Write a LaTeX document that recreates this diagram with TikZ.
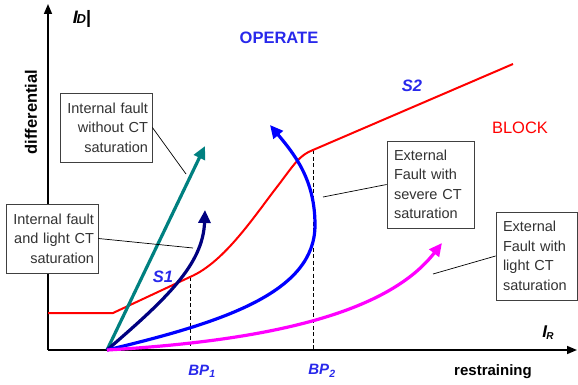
\documentclass[tikz,border=0pt]{standalone}
\usepackage{fontspec}
\setmainfont{Liberation Sans}
\usetikzlibrary{arrows.meta}
\definecolor{tealc}{RGB}{0,128,128}
\definecolor{navyc}{RGB}{0,0,128}
\definecolor{bluec}{RGB}{0,0,255}
\definecolor{magc}{RGB}{255,0,255}
\definecolor{redc}{RGB}{255,0,0}
\definecolor{lblblue}{RGB}{40,40,235}
\definecolor{boxtext}{RGB}{50,50,50}
\tikzset{
  axis/.style={line width=1.5pt, -{Triangle[length=10pt,width=8pt]}},
  traj/.style={line width=3.2pt, -{Triangle[length=13pt,width=12pt]}},
  bpline/.style={dashed, line width=0.7pt, dash pattern=on 4pt off 2.5pt},
  leader/.style={line width=0.7pt},
  callout/.style={draw=black!75, line width=0.8pt, fill=white, text=boxtext,
    font=\fontsize{14.5}{19.5}\selectfont, inner ysep=2pt},
  bluelbl/.style={text=lblblue, font=\fontsize{16.5}{18}\selectfont\bfseries\itshape},
}
\begin{document}
\begin{tikzpicture}[x=1pt,y=-1pt]
\useasboundingbox (0,0) rectangle (578,385);
% key coordinates
\coordinate (O) at (48,350);
\coordinate (ytip) at (48,4);
\coordinate (xtip) at (577,350);
\coordinate (S) at (107,350);
\coordinate (bp1top) at (190,277);
\coordinate (bp1bot) at (190,350);
\coordinate (bp2top) at (313,150);
\coordinate (bp2bot) at (313,350);
\coordinate (r0) at (48,313);
\coordinate (r1) at (113,313);
\coordinate (rend) at (513,64);
\coordinate (tealtip) at (205,146);
\coordinate (navytip) at (205,210);
\coordinate (bluetip) at (270,125);
\coordinate (magtip) at (442,243);
\coordinate (l1) at (186,174);
\coordinate (l2) at (193,248);
\coordinate (l3) at (323,197);
\coordinate (l4) at (433,274);
% axes
\draw[axis] (O) -- (ytip);
\draw[axis] (O) -- (xtip);
% breakpoints
\draw[bpline] (bp1top) -- (bp1bot);
\draw[bpline] (bp2top) -- (bp2bot);
% characteristic
\draw[redc, line width=2pt, line join=round] (r0) -- (r1) -- (bp1top)
  .. controls (225,262) and (255,215) .. (280,183)
  .. controls (295,163) and (300,155) .. (bp2top) -- (rend);
% trajectories
\draw[traj, tealc] (S) -- (tealtip);
\draw[traj, navyc] (S) .. controls (165,300) and (203,265) .. (navytip);
\draw[traj, bluec] (S) .. controls (225,322) and (315,292) .. (315,225)
  .. controls (315,180) and (295,155) .. (bluetip);
\draw[traj, magc] (S) .. controls (280,340) and (390,310) .. (magtip);
% callouts
\node[callout, align=right, text width=84pt, inner xsep=4pt, minimum height=69pt] (b1) at (106,127.5)
  {Internal fault\\without CT\\saturation};
\node[callout, align=right, text width=84pt, inner xsep=4pt, minimum height=69pt] (b2) at (52,238.5)
  {Internal fault\\and light CT\\saturation};
\node[callout, align=left, text width=73pt, inner xsep=7pt, minimum height=87pt] (b3) at (430.5,184.5)
  {External\\Fault with\\severe CT\\saturation};
\node[callout, align=left, text width=67pt, inner xsep=7pt, minimum height=88pt] (b4) at (536.5,256)
  {External\\Fault with\\light CT\\saturation};
\draw[leader] (b1.east) -- (l1);
\draw[leader] (b2.east) -- (l2);
\draw[leader] (b3.west) -- (l3);
\draw[leader] (b4.west) -- (l4);
% labels
\node[font=\fontsize{18}{20}\selectfont\bfseries] (id) at (82,19) {\textit{I}\kern-1.5pt{\fontsize{13}{13}\selectfont\textit{D}}|};
\node[font=\fontsize{17}{18}\selectfont\bfseries] (ir) at (548,333) {\textit{I}\kern-1pt{\fontsize{10}{10}\selectfont\raisebox{-2pt}{\textit{R}}}};
\node[rotate=90, font=\fontsize{16.5}{18}\selectfont\bfseries] (diff) at (31,112) {differential};
\node[font=\fontsize{15}{18}\selectfont\bfseries] (rest) at (493,372) {restraining};
\node[text=lblblue, font=\fontsize{16.5}{18}\selectfont\bfseries] (op) at (279,38) {OPERATE};
\node[text=redc, font=\fontsize{16.5}{18}\selectfont] (blk) at (520,128) {BLOCK};
\node[bluelbl] (s2) at (412,86) {S2};
\node[bluelbl] (s1) at (163,277) {S1};
\node[bluelbl, font=\fontsize{15}{18}\selectfont\bfseries\itshape] (bp1) at (202,371) {BP\textsubscript{1}};
\node[bluelbl, font=\fontsize{15}{18}\selectfont\bfseries\itshape] (bp2) at (322,371) {BP\textsubscript{2}};
\end{tikzpicture}
\end{document}
